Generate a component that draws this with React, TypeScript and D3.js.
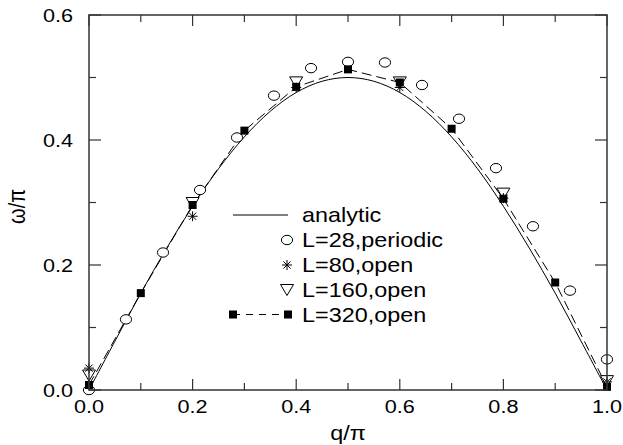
import React from "react";
import * as d3 from "d3";

// Dispersion of the lowest excitation, ω/π versus q/π
const analyticQ = [0, 0.05, 0.1, 0.15, 0.2, 0.25, 0.3, 0.35, 0.4, 0.45, 0.5, 0.55, 0.6, 0.65, 0.7, 0.75, 0.8, 0.85, 0.9, 0.95, 1.0];
const analyticW = [0, 0.078, 0.155, 0.227, 0.294, 0.354, 0.405, 0.446, 0.476, 0.494, 0.5, 0.494, 0.476, 0.446, 0.405, 0.354, 0.294, 0.227, 0.155, 0.078, 0];

const periodicQ = [0, 0.0714, 0.1429, 0.2143, 0.2857, 0.3571, 0.4286, 0.5, 0.5714, 0.6429, 0.7143, 0.7857, 0.8571, 0.9286, 1.0];
const periodicW = [0, 0.113, 0.22, 0.32, 0.404, 0.471, 0.515, 0.525, 0.524, 0.488, 0.434, 0.355, 0.262, 0.159, 0.049];

const open80Q = [0, 0.2, 0.4, 0.6, 0.8, 1.0];
const open80W = [0.035, 0.278, 0.484, 0.484, 0.307, 0.013];

const open160Q = [0, 0.2, 0.4, 0.6, 0.8, 1.0];
const open160W = [0.024, 0.3, 0.493, 0.493, 0.315, 0.015];

const open320Q = [0, 0.1, 0.2, 0.3, 0.4, 0.5, 0.6, 0.7, 0.8, 0.9, 1.0];
const open320W = [0.008, 0.155, 0.296, 0.415, 0.485, 0.513, 0.492, 0.418, 0.306, 0.172, 0.005];

const xMajor = [0, 0.2, 0.4, 0.6, 0.8, 1.0];
const xMinor = [0.1, 0.3, 0.5, 0.7, 0.9];
const yMajor = [0, 0.2, 0.4, 0.6];
const yMinor = [0.1, 0.3, 0.5];

const legendLabels = ["analytic", "L=28,periodic", "L=80,open", "L=160,open", "L=320,open"];

const W = 623;
const H = 445;
const left = 89;
const right = 607;
const top = 15;
const bottom = 390;
const SX = 1.17; // horizontal text stretch
const FONT = "'Liberation Sans', Arial, Helvetica, sans-serif";
const AX = "#333";

const x = d3.scaleLinear().domain([0, 1]).range([left, right]);
const y = d3.scaleLinear().domain([0, 0.6]).range([bottom, top]);

const zip = (qs: number[], ws: number[]) => qs.map((q, i) => [q, ws[i]] as [number, number]);

const Circle = ({ cx, cy }: { cx: number; cy: number }) => (
  <ellipse cx={cx} cy={cy} rx={5.6} ry={4.7} fill="white" stroke="black" strokeWidth={1} />
);
const Star = ({ cx, cy }: { cx: number; cy: number }) => {
  const r = 5;
  const d = r * 0.72;
  return (
    <path
      d={`M${cx - r},${cy}H${cx + r}M${cx},${cy - r}V${cy + r}M${cx - d},${cy - d}L${cx + d},${cy + d}M${cx - d},${cy + d}L${cx + d},${cy - d}`}
      stroke="black"
      strokeWidth={1}
      fill="none"
    />
  );
};
const Tri = ({ cx, cy }: { cx: number; cy: number }) => (
  <path d={`M${cx - 6.5},${cy - 5}L${cx + 6.5},${cy - 5}L${cx},${cy + 6}Z`} fill="white" stroke="black" strokeWidth={1} />
);
const Sq = ({ cx, cy }: { cx: number; cy: number }) => (
  <rect x={cx - 4} y={cy - 4} width={8} height={8} fill="black" />
);

const T = ({ x0, y0, size, anchor, children }: any) => (
  <text
    transform={`translate(${x0},${y0}) scale(${SX},1)`}
    fontFamily={FONT}
    fontSize={size}
    textAnchor={anchor || "start"}
    fill="black"
  >
    {children}
  </text>
);

export default function App() {
  const smooth = d3
    .line<[number, number]>()
    .x((d) => x(d[0]))
    .y((d) => y(d[1]))
    .curve(d3.curveCatmullRom);
  const straight = d3
    .line<[number, number]>()
    .x((d) => x(d[0]))
    .y((d) => y(d[1]));

  const analytic = zip(analyticQ, analyticW);
  const periodic = zip(periodicQ, periodicW);
  const o80 = zip(open80Q, open80W);
  const o160 = zip(open160Q, open160W);
  const o320 = zip(open320Q, open320W);

  const legendRows = [215, 240, 265, 289.5, 314.5];

  return (
    <svg width={W} height={H} style={{ position: "absolute", left: 0, top: 0, background: "white" }}>
      <rect width={W} height={H} fill="white" />

      {/* curves */}
      <path d={smooth(analytic) || ""} fill="none" stroke="black" strokeWidth={1} />
      <path d={straight(o320) || ""} fill="none" stroke="black" strokeWidth={1} strokeDasharray="10,5" />

      {/* markers */}
      {periodic.map((d, i) => <Circle key={"c" + i} cx={x(d[0])} cy={y(d[1])} />)}
      {o160.map((d, i) => <Tri key={"t" + i} cx={x(d[0])} cy={y(d[1])} />)}
      {o80.map((d, i) => <Star key={"s" + i} cx={x(d[0])} cy={y(d[1])} />)}
      {o320.map((d, i) => <Sq key={"q" + i} cx={x(d[0])} cy={y(d[1])} />)}

      {/* frame */}
      <rect x={left} y={top} width={right - left} height={bottom - top} fill="none" stroke={AX} strokeWidth={1.5} />

      {/* ticks */}
      {xMajor.map((v) => (
        <g key={"xM" + v}>
          <line x1={x(v)} x2={x(v)} y1={bottom} y2={bottom - 11} stroke={AX} strokeWidth={1.2} />
          <line x1={x(v)} x2={x(v)} y1={top} y2={top + 11} stroke={AX} strokeWidth={1.2} />
          <T x0={x(v)} y0={413} size={18.5} anchor="middle">{d3.format(".1f")(v)}</T>
        </g>
      ))}
      {xMinor.map((v) => (
        <g key={"xm" + v}>
          <line x1={x(v)} x2={x(v)} y1={bottom} y2={bottom - 7} stroke={AX} strokeWidth={1.2} />
          <line x1={x(v)} x2={x(v)} y1={top} y2={top + 7} stroke={AX} strokeWidth={1.2} />
        </g>
      ))}
      {yMajor.map((v) => (
        <g key={"yM" + v}>
          <line x1={left} x2={left + 12} y1={y(v)} y2={y(v)} stroke={AX} strokeWidth={1.2} />
          <line x1={right} x2={right - 12} y1={y(v)} y2={y(v)} stroke={AX} strokeWidth={1.2} />
          <T x0={73} y0={y(v) + 6.6} size={18.5} anchor="end">{d3.format(".1f")(v)}</T>
        </g>
      ))}
      {yMinor.map((v) => (
        <g key={"ym" + v}>
          <line x1={left} x2={left + 7} y1={y(v)} y2={y(v)} stroke={AX} strokeWidth={1.2} />
          <line x1={right} x2={right - 7} y1={y(v)} y2={y(v)} stroke={AX} strokeWidth={1.2} />
        </g>
      ))}

      {/* axis titles */}
      <T x0={(left + right) / 2} y0={440} size={20} anchor="middle">q/π</T>
      <text
        transform={`translate(25,${(top + bottom) / 2 + 4}) rotate(-90) scale(1,${SX})`}
        fontFamily={FONT}
        fontSize={20}
        textAnchor="middle"
        fill="black"
      >
        ω/π
      </text>

      {/* legend */}
      <line x1={233} x2={288} y1={legendRows[0]} y2={legendRows[0]} stroke="black" strokeWidth={1} />
      <Circle cx={287} cy={legendRows[1]} />
      <Star cx={287} cy={legendRows[2]} />
      <Tri cx={287} cy={legendRows[3]} />
      <line x1={233} x2={288} y1={legendRows[4]} y2={legendRows[4]} stroke="black" strokeWidth={1} strokeDasharray="7,6" />
      <Sq cx={233} cy={legendRows[4]} />
      <Sq cx={288} cy={legendRows[4]} />
      {legendLabels.map((l, i) => (
        <T key={l} x0={302} y0={legendRows[i] + 7} size={20}>{l}</T>
      ))}
    </svg>
  );
}
